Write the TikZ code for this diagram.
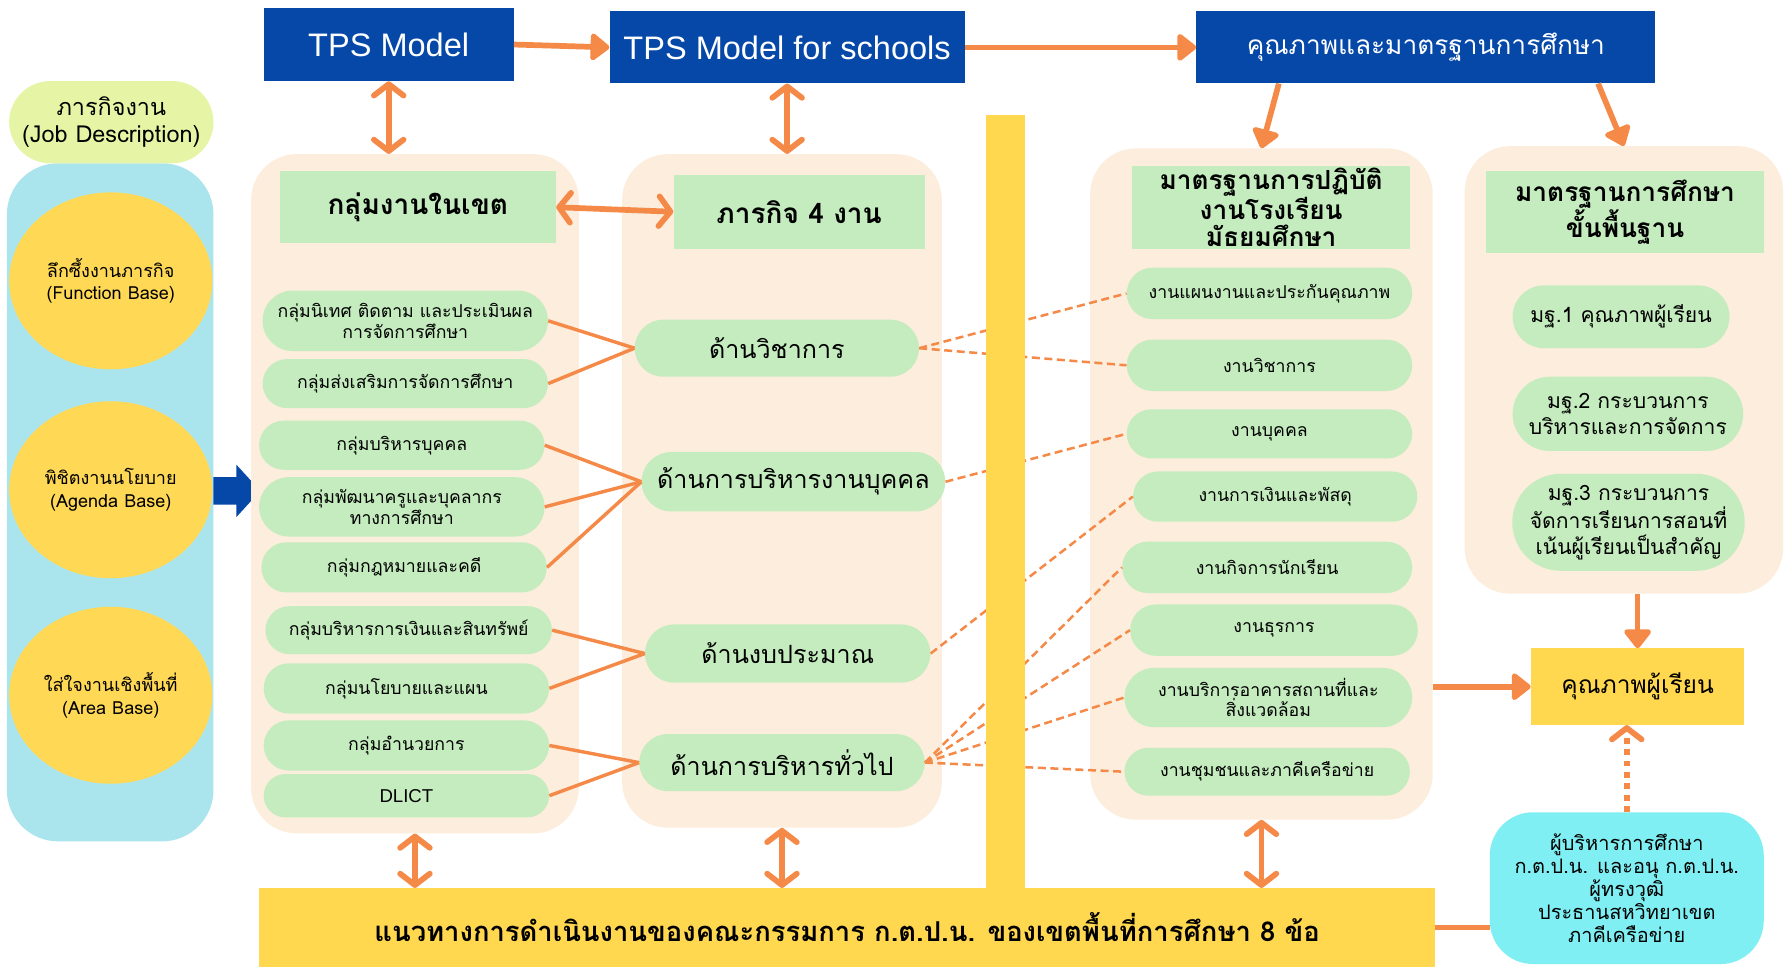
\documentclass[tikz,border=0pt]{standalone}
\usepackage{fontspec}
\setmainfont[Script=Thai]{Loma}
\newfontfamily\latf{Liberation Sans}
\usetikzlibrary{shapes.misc,shapes.geometric,arrows.meta,calc}
\definecolor{tpsblue}{RGB}{6,72,168}
\definecolor{conor}{RGB}{245,137,72}
\definecolor{peach}{RGB}{253,237,220}
\definecolor{pgreen}{RGB}{196,236,190}
\definecolor{ybar}{RGB}{255,216,80}
\definecolor{cpan}{RGB}{170,229,237}
\definecolor{jobc}{RGB}{230,245,165}
\definecolor{cbox}{RGB}{128,239,243}
\definecolor{circy}{RGB}{255,217,85}
\newcommand{\fsz}[2]{\fontsize{#1}{#2}\selectfont}
\begin{document}
\begin{tikzpicture}[x=1pt,y=-1pt,
  bluebox/.style={rectangle,fill=tpsblue,text=white,inner sep=0pt},
  panel/.style={rectangle,rounded corners=40pt,fill=peach,inner sep=0pt},
  ttl/.style={rectangle,fill=pgreen,inner sep=0pt,align=center,font=\bfseries\fsz{23}{24}},
  pill/.style={rounded rectangle,fill=pgreen,inner sep=0pt,align=center,font=\fsz{15.5}{18}},
  dpill/.style={pill,font=\fsz{22}{24}},
  spill/.style={pill,font=\fsz{15.5}{18}},
  mpill/.style={pill,font=\fsz{18.5}{22.5}},
  circ/.style={ellipse,fill=circy,inner sep=0pt,minimum width=178pt,minimum height=155pt,align=center,font=\fsz{15.8}{20}},
  conn/.style={draw=conor,line width=3pt},
  dconn/.style={draw=conor,line width=2.2pt,dash pattern=on 7pt off 4pt},
  arr/.style={draw=conor,line width=5pt,-{Triangle[length=18pt,width=27pt,round]}},
  darr/.style={draw=conor,line width=5pt,{Straight Barb[length=10pt,width=26pt,line width=5pt,round]}-{Straight Barb[length=10pt,width=26pt,line width=5pt,round]}}
]
\fill[white] (0,0) rectangle (1568,847);
\useasboundingbox (0,0) rectangle (1568,847);

% ---------- left column
\node[rectangle,rounded corners=45pt,fill=cpan,minimum width=181pt,minimum height=594pt] (cpanel) at (96.5,440) {};
\node[rounded rectangle,fill=jobc,minimum width=179pt,minimum height=72pt,inner sep=0pt,align=center,font=\fsz{20.5}{24}] (job) at (97.5,107) {ภารกิจงาน\\(Job Description)};
\node[circ] (func) at (97,246) {ลึกซึ้งงานภารกิจ\\(Function Base)};
\node[circ] (agenda) at (97,429) {พิชิตงานนโยบาย\\(Agenda Base)};
\node[circ] (area) at (97,609) {ใส่ใจงานเชิงพื้นที่\\(Area Base)};
\fill[tpsblue] (187,418) -- (207,418) -- (207,407) -- (228,430) -- (207,453) -- (207,442) -- (187,442) -- cycle;

% ---------- top blue boxes
\node[bluebox,minimum width=219pt,minimum height=64pt,font=\latf\fsz{28.5}{30}] (tps) at (340.5,39) {TPS Model};
\node[bluebox,minimum width=311pt,minimum height=63pt,font=\latf\fsz{28.5}{30}] (tpss) at (689.5,41.5) {TPS Model for schools};
\node[bluebox,minimum width=402pt,minimum height=63pt,font=\fsz{23}{24}] (qual) at (1249,41.5) {คุณภาพและมาตรฐานการศึกษา};

% ---------- panels
\node[panel,minimum width=287pt,minimum height=595pt] (p1) at (363.5,432.5) {};
\node[panel,minimum width=280pt,minimum height=590pt] (p2) at (685,430) {};
\node[panel,minimum width=300pt,minimum height=588pt] (p3) at (1105,424) {};
\node[panel,minimum width=279pt,minimum height=392pt] (p4) at (1422.5,324) {};

\node[ttl,minimum width=242pt,minimum height=63pt,font=\bfseries\fsz{24.5}{26}] (t1) at (366,181.5) {กลุ่มงานในเขต};
\node[ttl,minimum width=220pt,minimum height=65pt,font=\bfseries\fsz{24.5}{26}] (t2) at (700,185.5) {ภารกิจ 4 งาน};
\node[ttl,minimum width=243pt,minimum height=73pt] (t3) at (1113.5,181.5) {มาตรฐานการปฏิบัติ\\งานโรงเรียน\\มัธยมศึกษา};
\node[ttl,minimum width=243pt,minimum height=72pt] (t4) at (1423.5,186) {มาตรฐานการศึกษา\\ขั้นพื้นฐาน};

% left pills
\node[pill,minimum width=250pt,minimum height=53pt] (g1) at (355,281) {กลุ่มนิเทศ ติดตาม และประเมินผล\\การจัดการศึกษา};
\node[pill,minimum width=250pt,minimum height=43pt] (g2) at (355,336) {กลุ่มส่งเสริมการจัดการศึกษา};
\node[pill,minimum width=250pt,minimum height=43pt] (g3) at (352,390) {กลุ่มบริหารบุคคล};
\node[pill,minimum width=250pt,minimum height=52pt] (g4) at (352,444) {กลุ่มพัฒนาครูและบุคลากร\\ทางการศึกษา};
\node[pill,minimum width=250pt,minimum height=44pt] (g5) at (354,497) {กลุ่มกฎหมายและคดี};
\node[pill,minimum width=251pt,minimum height=42pt] (g6) at (358,552) {กลุ่มบริหารการเงินและสินทรัพย์};
\node[pill,minimum width=250pt,minimum height=44pt] (g7) at (356,603) {กลุ่มนโยบายและแผน};
\node[pill,minimum width=250pt,minimum height=44pt] (g8) at (356,653) {กลุ่มอำนวยการ};
\node[pill,minimum width=250pt,minimum height=38pt,font=\latf\fsz{16.3}{18}] (g9) at (356,697) {DLICT};

% middle pills
\node[dpill,minimum width=249pt,minimum height=50pt] (d1) at (680.5,305) {ด้านวิชาการ};
\node[dpill,minimum width=266pt,minimum height=52pt] (d2) at (695,422) {ด้านการบริหารงานบุคคล};
\node[dpill,minimum width=250pt,minimum height=51pt] (d3) at (690,572.5) {ด้านงบประมาณ};
\node[dpill,minimum width=250pt,minimum height=50pt] (d4) at (685,668) {ด้านการบริหารทั่วไป};

% right pills
\node[spill,minimum width=250pt,minimum height=45pt] (s1) at (1112,257) {งานแผนงานและประกันคุณภาพ};
\node[spill,minimum width=250pt,minimum height=45pt] (s2) at (1112,320) {งานวิชาการ};
\node[spill,minimum width=250pt,minimum height=43pt] (s3) at (1112,380) {งานบุคคล};
\node[spill,minimum width=249pt,minimum height=44pt] (s4) at (1117,435) {งานการเงินและพัสดุ};
\node[spill,minimum width=254pt,minimum height=45pt] (s5) at (1110,497) {งานกิจการนักเรียน};
\node[spill,minimum width=252pt,minimum height=45pt] (s6) at (1116,552) {งานธุรการ};
\node[spill,minimum width=252pt,minimum height=52pt] (s7) at (1111,611) {งานบริการอาคารสถานที่และ\\สิ่งแวดล้อม};
\node[spill,minimum width=250pt,minimum height=42pt] (s8) at (1110,676) {งานชุมชนและภาคีเครือข่าย};

% standards pills
\node[mpill,minimum width=190pt,minimum height=55pt] (m1) at (1420,277.5) {มฐ.1 คุณภาพผู้เรียน};
\node[mpill,minimum width=202pt,minimum height=65pt] (m2) at (1426,362.5) {มฐ.2 กระบวนการ\\บริหารและการจัดการ};
\node[mpill,minimum width=203pt,minimum height=85pt] (m3) at (1426.5,457.5) {มฐ.3 กระบวนการ\\จัดการเรียนการสอนที่\\เน้นผู้เรียนเป็นสำคัญ};

\node[rectangle,fill=ybar,minimum width=187pt,minimum height=67pt,inner sep=0pt,font=\fsz{21.5}{24}] (qp) at (1434.5,601.5) {คุณภาพผู้เรียน};
\node[rectangle,rounded corners=38pt,fill=cbox,minimum width=240pt,minimum height=133pt,inner sep=0pt,align=center,font=\fsz{17.5}{20}] (exec) at (1425,778) {ผู้บริหารการศึกษา\\ก.ต.ป.น. และอนุ ก.ต.ป.น.\\ผู้ทรงวุฒิ\\ประธานสหวิทยาเขต\\ภาคีเครือข่าย};

% ---------- connectors
\draw[conn] (g1.east) -- (d1.west);
\draw[conn] (g2.east) -- (d1.west);
\draw[conn] (g3.east) -- (d2.west);
\draw[conn] (g4.east) -- (d2.west);
\draw[conn] (g5.east) -- (d2.west);
\draw[conn] (g6.east) -- (d3.west);
\draw[conn] (g7.east) -- (d3.west);
\draw[conn] (g8.east) -- (d4.west);
\draw[conn] (g9.east) -- (d4.west);

\draw[dconn] (d1.east) -- (s1.west);
\draw[dconn] (d1.east) -- (s2.west);
\draw[dconn] (d2.east) -- (s3.west);
\draw[dconn] (d3.east) -- (s4.west);
\draw[dconn] (d4.east) -- (s5.west);
\draw[dconn] (d4.east) -- (s6.west);
\draw[dconn] (d4.east) -- (s7.west);
\draw[dconn] (d4.east) -- (s8.west);

% ---------- yellow bars
\node[rectangle,fill=ybar,minimum width=34pt,minimum height=679pt,inner sep=0pt] (vbar) at (881,440.5) {};
\node[rectangle,fill=ybar,minimum width=1030pt,minimum height=69pt,inner sep=0pt,font=\bfseries\fsz{24}{26}] (bbar) at (742,812.5) {แนวทางการดำเนินงานของคณะกรรมการ ก.ต.ป.น. ของเขตพื้นที่การศึกษา 8 ข้อ};

% ---------- arrows
\draw[arr] (tps.east) -- (tpss.west);
\draw[arr] (tpss.east) -- (qual.west);
\draw[arr] ($(qual.south west)!0.18!(qual.south east)$) -- (p3.north);
\draw[arr] ($(qual.south west)!0.875!(qual.south east)$) -- (p4.north);
\draw[darr] (tps.south) -- (tps.south |- p1.north);
\draw[darr] (tpss.south) -- (tpss.south |- p2.north);
\draw[darr] (t1.east) -- (t2.west);
\draw[darr] (p1.south) -- (p1.south |- bbar.north);
\draw[darr] (p2.south) -- (p2.south |- bbar.north);
\draw[darr] (p3.south) -- (p3.south |- bbar.north);
\draw[arr] (qp.north |- p4.south) -- (qp.north);
\draw[arr] (p3.east |- qp.west) -- (qp.west);
\draw[draw=conor,line width=5pt] (bbar.east) -- (bbar.east -| exec.west);
\draw[draw=conor,line width=5pt,dash pattern=on 5pt off 5pt,-{Straight Barb[length=10pt,width=26pt,line width=5pt,round]}] (exec.north) -- (exec.north |- qp.south);
\end{tikzpicture}
\end{document}
